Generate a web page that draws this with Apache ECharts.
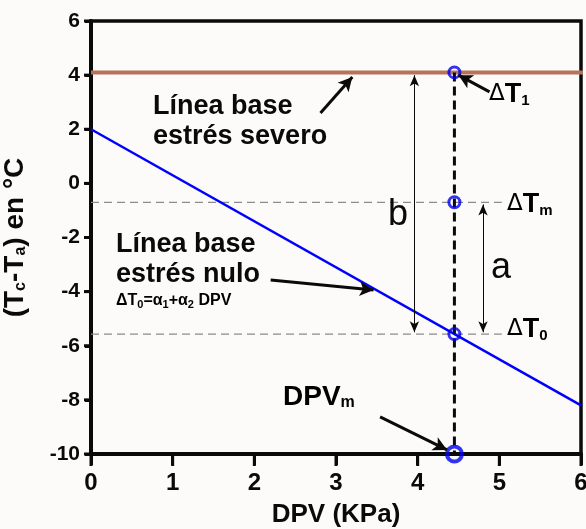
<!DOCTYPE html>
<html>
<head>
<meta charset="utf-8">
<script src="https://cdn.jsdelivr.net/npm/echarts@6/dist/echarts.min.js"></script>
<style>
  html, body { margin: 0; padding: 0; background: #fcfbf9; }
  #main { width: 586px; height: 529px; }
</style>
</head>
<body>
<div id="main"></div>
<script>
// axis ranges and ticks
const xTicks = [0, 1, 2, 3, 4, 5, 6];
const yTicks = [-10, -8, -6, -4, -2, 0, 2, 4, 6];
const xMin = 0, xMax = 6, yMin = -10, yMax = 6;

// baselines (DPV, Tc-Ta)
const severeBase = [[0, 4.1], [6.06, 4.1]];
const nullBase = [[0, 2], [6, -8.2]];

// measured point
const dpvM = 4.45;
const deltaT1 = 4.1;
const deltaTm = -0.7;
const deltaT0 = -5.57;
const guideEnd = 5.03;

// annotation arrows [from, to] in data units
const boldArrows = [
  [[2.81, 2.60], [3.20, 3.93]],
  [[2.20, -3.57], [3.46, -3.94]],
  [[4.88, 3.38], [4.50, 4.00]],
  [[3.54, -8.63], [4.36, -9.85]]
];
const spanArrows = [
  [[3.96, 4.00], [3.96, -5.50]],
  [[4.80, -0.78], [4.80, -5.50]]
];

const FONT = 'Liberation Sans';
const INK = '#0a0a0a';

const chart = echarts.init(document.getElementById('main'));

const deltaRich = {
  d: { fontFamily: 'DejaVu Sans', fontSize: 23, fontWeight: 'normal', color: INK, lineHeight: 28 },
  t: { fontFamily: FONT, fontSize: 27, fontWeight: 'bold', color: INK, lineHeight: 28 },
  s: { fontFamily: FONT, fontSize: 15, fontWeight: 'bold', color: INK, lineHeight: 14, verticalAlign: 'bottom' }
};

function deltaLabel(sub, left, top) {
  return {
    type: 'text', left: left, top: top, z: 100,
    style: { text: '{d|Δ}{t|T}{s|' + sub + '}', rich: deltaRich }
  };
}

// frame and ticks drawn through the axes' own scale
function frameItem(params, api) {
  const p1 = api.coord([api.value(0), api.value(1)]);
  const p2 = api.coord([api.value(2), api.value(3)]);
  return {
    type: 'rect',
    shape: { x: p1[0], y: p1[1], width: p2[0] - p1[0], height: p2[1] - p1[1] },
    style: { fill: 'none', stroke: INK, lineWidth: 3.5 }
  };
}
function xTickItem(params, api) {
  const p = api.coord([api.value(0), api.value(1)]);
  return { type: 'line', shape: { x1: p[0], y1: p[1], x2: p[0], y2: p[1] + 12 }, style: { stroke: INK, lineWidth: 3 } };
}
function yTickItem(params, api) {
  const p = api.coord([api.value(0), api.value(1)]);
  return { type: 'line', shape: { x1: p[0] - 7, y1: p[1], x2: p[0], y2: p[1] }, style: { stroke: INK, lineWidth: 3 } };
}

const option = {
  backgroundColor: '#fcfbf9',
  animation: false,
  grid: {
    left: 91, right: 5, top: 21, bottom: 75,
    containLabel: false, outerBoundsMode: 'none'
  },
  xAxis: {
    type: 'value', min: xMin, max: xMax, interval: 1,
    name: 'DPV (KPa)', nameLocation: 'middle', nameGap: 48,
    nameTextStyle: { fontFamily: FONT, fontSize: 26, fontWeight: 'bold', color: INK },
    axisLine: { show: true, onZero: false, lineStyle: { color: INK, width: 4 } },
    axisTick: { show: true, length: 11, lineStyle: { color: INK, width: 3 } },
    axisLabel: { margin: 17, fontFamily: FONT, fontSize: 24, fontWeight: 'bold', color: INK },
    splitLine: { show: false }
  },
  yAxis: {
    type: 'value', min: yMin, max: yMax, interval: 2,
    name: '(T{s|c}-T{s|a}) en °C', nameLocation: 'middle', nameGap: 62, nameRotate: 90,
    nameTextStyle: {
      fontFamily: FONT, fontSize: 28, fontWeight: 'bold', color: INK,
      rich: { s: { fontFamily: FONT, fontSize: 16, fontWeight: 'bold', color: INK, lineHeight: 14, verticalAlign: 'bottom' } }
    },
    axisLine: { show: true, onZero: false, lineStyle: { color: INK, width: 4 } },
    axisTick: { show: true, length: 6, lineStyle: { color: INK, width: 3 } },
    axisLabel: { margin: 11, fontFamily: FONT, fontSize: 21, fontWeight: 'bold', color: INK },
    splitLine: { show: false }
  },
  series: [
    {
      type: 'line', data: severeBase, symbol: 'none', clip: false,
      lineStyle: { color: '#b5735a', width: 4 }
    },
    {
      type: 'line', data: [[0, deltaTm], [guideEnd, deltaTm]], symbol: 'none',
      lineStyle: { color: '#8c8c8c', width: 1.2, type: [8, 5] }
    },
    {
      type: 'line', data: [[0, deltaT0], [guideEnd, deltaT0]], symbol: 'none',
      lineStyle: { color: '#8c8c8c', width: 1.2, type: [8, 5] }
    },
    {
      type: 'line', data: nullBase, symbol: 'none',
      lineStyle: { color: '#0000ff', width: 2.5 },
      markLine: {
        silent: true, symbol: ['arrow', 'arrow'], symbolSize: [7, 11],
        label: { show: false },
        lineStyle: { color: INK, width: 1, type: 'solid' },
        data: spanArrows.map(a => [{ coord: a[0] }, { coord: a[1] }])
      }
    },
    {
      type: 'line', data: [[dpvM, deltaT1], [dpvM, yMin]], symbol: 'none',
      lineStyle: { color: INK, width: 3, type: [9, 5] },
      markLine: {
        silent: true, symbol: ['none', 'arrow'], symbolSize: [11, 14],
        label: { show: false },
        lineStyle: { color: INK, width: 3, type: 'solid' },
        data: boldArrows.map(a => [{ coord: a[0] }, { coord: a[1] }])
      }
    },
    {
      type: 'custom', clip: false, z: 3, silent: true,
      data: [[xMin, yMax, xMax, yMin]],
      renderItem: frameItem
    },
    {
      type: 'custom', clip: false, z: 3, silent: true,
      data: xTicks.map(v => [v, yMin]),
      renderItem: xTickItem
    },
    {
      type: 'custom', clip: false, z: 3, silent: true,
      data: yTicks.map(v => [xMin, v]),
      renderItem: yTickItem
    },
    {
      type: 'scatter', symbol: 'circle', symbolSize: 11, z: 4,
      data: [[dpvM, deltaT1], [dpvM, deltaTm], [dpvM, deltaT0]],
      itemStyle: { color: 'rgba(0,0,0,0)', borderColor: '#0000ee', borderWidth: 3 }
    },
    {
      type: 'scatter', symbol: 'circle', symbolSize: 15, z: 4,
      data: [[dpvM, yMin]],
      itemStyle: { color: 'rgba(0,0,0,0)', borderColor: '#0000ee', borderWidth: 4 }
    }
  ],
  graphic: [
    {
      type: 'text', left: 153, top: 92, z: 100,
      style: { text: 'Línea base\nestrés severo', font: 'bold 27px "Liberation Sans"', lineHeight: 30, fill: INK }
    },
    {
      type: 'text', left: 116, top: 230, z: 100,
      style: { text: 'Línea base\nestrés nulo', font: 'bold 27px "Liberation Sans"', lineHeight: 30, fill: INK }
    },
    {
      type: 'text', left: 116, top: 293, z: 100,
      style: {
        text: '{n|ΔT}{s|0}{n|=α}{s|1}{n|+α}{s|2}{n| DPV}',
        rich: {
          n: { fontFamily: FONT, fontSize: 16, fontWeight: 'bold', color: INK, lineHeight: 18 },
          s: { fontFamily: FONT, fontSize: 11, fontWeight: 'bold', color: INK, lineHeight: 10, verticalAlign: 'bottom' }
        }
      }
    },
    deltaLabel('1', 489, 81),
    deltaLabel('m', 507, 191),
    deltaLabel('0', 507, 316),
    {
      type: 'text', left: 283, top: 383, z: 100,
      style: {
        text: '{t|DPV}{s|m}',
        rich: {
          t: { fontFamily: FONT, fontSize: 28, fontWeight: 'bold', color: INK, lineHeight: 28 },
          s: { fontFamily: FONT, fontSize: 16, fontWeight: 'bold', color: INK, lineHeight: 14, verticalAlign: 'bottom' }
        }
      }
    },
    {
      type: 'text', left: 388, top: 197, z: 100,
      style: { text: 'b', font: '36px "Liberation Sans"', fill: INK }
    },
    {
      type: 'text', left: 491, top: 250, z: 100,
      style: { text: 'a', font: '36px "Liberation Sans"', fill: INK }
    }
  ]
};

chart.setOption(option);
</script>
</body>
</html>
